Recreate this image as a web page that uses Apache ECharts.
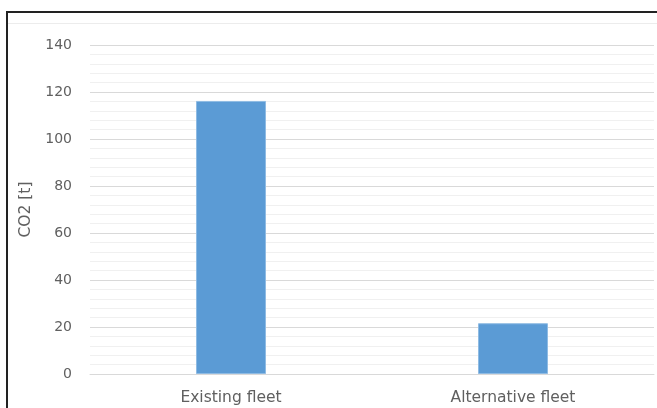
<!DOCTYPE html>
<html>
<head>
<meta charset="utf-8">
<script src="https://cdn.jsdelivr.net/npm/echarts@6/dist/echarts.min.js"></script>
<style>
	html, body { margin: 0; padding: 0; background: #fff; }
	#wrap { position: relative; width: 657px; height: 408px; overflow: hidden; }
	#frame { position: absolute; left: 6px; top: 11px; width: 700px; height: 500px; border-left: 2px solid #222; border-top: 2px solid #222; }
	#topline { position: absolute; left: 8px; top: 23px; width: 660px; height: 1px; background: #ececec; }
	#main { position: absolute; left: 0; top: 0; width: 657px; height: 408px; }
</style>
</head>
<body>
<div id="wrap">
	<div id="frame"></div>
	<div id="topline"></div>
	<div id="main"></div>
</div>
<script>
// 数据
var categories = ['Existing fleet', 'Alternative fleet'];
var co2Values = [116.2, 21.6];
var yTicks = [0, 20, 40, 60, 80, 100, 120, 140];

var myChart = echarts.init(document.getElementById('main'));
var textFont = 'DejaVu Sans';
var textColor = '#606060';
var option;

option = {
	animation: false,
	grid: {
		left: 90,
		right: 3,
		top: 45,
		bottom: 34
	},
	xAxis: {
		type: 'category',
		data: categories,
		axisLine: { lineStyle: { color: '#d9d9d9' } },
		axisTick: { show: false },
		axisLabel: {
			color: textColor,
			fontFamily: textFont,
			fontSize: 15.5,
			margin: 16
		}
	},
	yAxis: {
		type: 'value',
		min: yTicks[0],
		max: yTicks[yTicks.length - 1],
		interval: 20,
		name: 'CO2 [t]',
		nameLocation: 'middle',
		nameGap: 47,
		nameTextStyle: {
			color: textColor,
			fontFamily: textFont,
			fontSize: 15.5
		},
		axisLine: { show: false },
		axisTick: { show: false },
		axisLabel: {
			color: textColor,
			fontFamily: textFont,
			fontSize: 14,
			margin: 18
		},
		splitLine: { lineStyle: { color: '#d9d9d9' } },
		minorTick: { show: false, splitNumber: 5 },
		minorSplitLine: { show: true, lineStyle: { color: '#f0f0f0' } }
	},
	series: [
		{
			name: 'CO2',
			type: 'bar',
			data: co2Values,
			barWidth: 70,
			itemStyle: {
				color: '#5b9bd5',
				borderColor: '#8fbbe3',
				borderWidth: 1
			}
		}
	]
};

option && myChart.setOption(option);
</script>
</body>
</html>
